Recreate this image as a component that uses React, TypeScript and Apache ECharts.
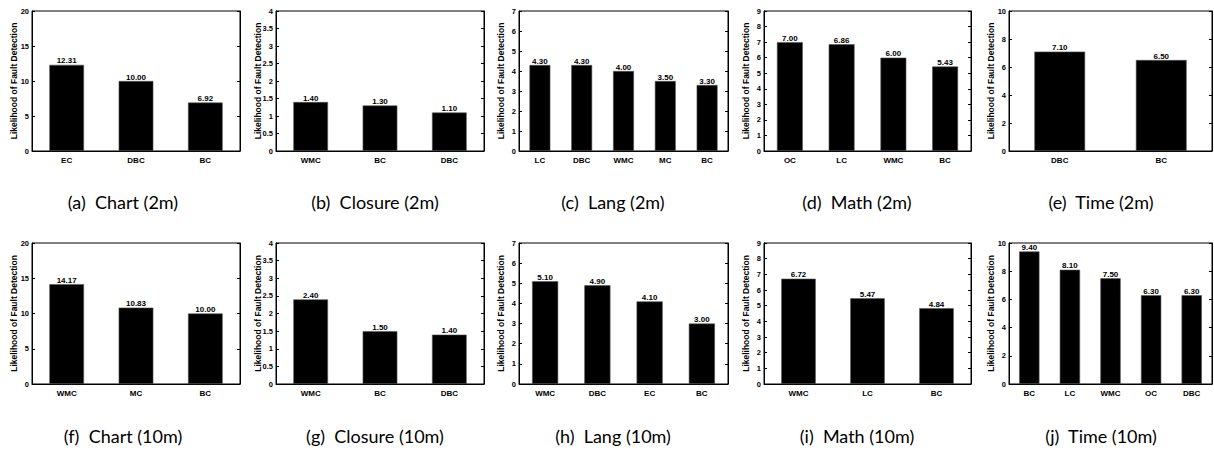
import React, { useEffect, useRef } from "react";
import * as echarts from "echarts";

// ---- Data ----
const chart2mCategories = ["EC", "DBC", "BC"];
const chart2mValues = [12.31, 10.0, 6.92];
const closure2mCategories = ["WMC", "BC", "DBC"];
const closure2mValues = [1.4, 1.3, 1.1];
const lang2mCategories = ["LC", "DBC", "WMC", "MC", "BC"];
const lang2mValues = [4.3, 4.3, 4.0, 3.5, 3.3];
const math2mCategories = ["OC", "LC", "WMC", "BC"];
const math2mValues = [7.0, 6.86, 6.0, 5.43];
const time2mCategories = ["DBC", "BC"];
const time2mValues = [7.1, 6.5];

const chart10mCategories = ["WMC", "MC", "BC"];
const chart10mValues = [14.17, 10.83, 10.0];
const closure10mCategories = ["WMC", "BC", "DBC"];
const closure10mValues = [2.4, 1.5, 1.4];
const lang10mCategories = ["WMC", "DBC", "EC", "BC"];
const lang10mValues = [5.1, 4.9, 4.1, 3.0];
const math10mCategories = ["WMC", "LC", "BC"];
const math10mValues = [6.72, 5.47, 4.84];
const time10mCategories = ["BC", "LC", "WMC", "OC", "DBC"];
const time10mValues = [9.4, 8.1, 7.5, 6.3, 6.3];

const yMaxes = [20, 4, 7, 9, 10, 20, 4, 7, 9, 10];
const yIntervals = [5, 0.5, 1, 1, 2, 5, 0.5, 1, 1, 2];
const captions = [
  "(a)\u00a0 Chart (2m)",
  "(b)\u00a0 Closure (2m)",
  "(c)\u00a0 Lang (2m)",
  "(d)\u00a0 Math (2m)",
  "(e)\u00a0 Time (2m)",
  "(f)\u00a0 Chart (10m)",
  "(g)\u00a0 Closure (10m)",
  "(h)\u00a0 Lang (10m)",
  "(i)\u00a0 Math (10m)",
  "(j)\u00a0 Time (10m)",
];
const yAxisName = "Likelihood of Fault Detection";

const panels = [
  [chart2mCategories, chart2mValues],
  [closure2mCategories, closure2mValues],
  [lang2mCategories, lang2mValues],
  [math2mCategories, math2mValues],
  [time2mCategories, time2mValues],
  [chart10mCategories, chart10mValues],
  [closure10mCategories, closure10mValues],
  [lang10mCategories, lang10mValues],
  [math10mCategories, math10mValues],
  [time10mCategories, time10mValues],
] as [string[], number[]][];

// ---- Layout ----
const colLefts = [32, 276, 519, 764, 1009];
const colRights = [240, 484, 728, 971, 1212];
const rowTops = [11, 243];
const rowBottoms = [151, 384];
const captionX = [123, 375, 613, 857, 1101];
const captionY = [202, 436];
const nameX = [14, 258, 501, 746, 991];

const smallFont = "Liberation Sans";

function buildOption() {
  const grid: any[] = [];
  const xAxis: any[] = [];
  const yAxis: any[] = [];
  const series: any[] = [];
  const graphic: any[] = [];

  panels.forEach(([cats, vals], i) => {
    const col = i % 5;
    const row = Math.floor(i / 5);
    const L = colLefts[col];
    const R = colRights[col];
    const T = rowTops[row];
    const B = rowBottoms[row];
    grid.push({
      left: L,
      top: T,
      width: R - L,
      height: B - T,
      show: true,
      borderColor: "#000",
      borderWidth: 1,
      backgroundColor: "transparent",
    });
    xAxis.push({
      type: "category",
      gridIndex: i,
      data: cats,
      boundaryGap: true,
      axisLine: { show: true, lineStyle: { color: "#000", width: 1 } },
      axisTick: { show: false },
      axisLabel: {
        color: "#000",
        fontSize: 8,
        fontWeight: "bold",
        fontFamily: smallFont,
        margin: 5,
      },
      splitLine: { show: false },
    });
    const yCommon = {
      type: "value",
      gridIndex: i,
      min: 0,
      max: yMaxes[i],
      interval: yIntervals[i],
      splitLine: { show: false },
      axisLine: { show: true, lineStyle: { color: "#000", width: 1 } },
      axisTick: { show: true, inside: true, length: 3, lineStyle: { color: "#000" } },
    };
    yAxis.push({
      ...yCommon,
      position: "left",
      axisLabel: {
        color: "#000",
        fontSize: 7.5,
        fontWeight: "bold",
        fontFamily: smallFont,
        margin: 3,
      },
    });
    yAxis.push({
      ...yCommon,
      position: "right",
      axisLabel: { show: false },
    });
    series.push({
      type: "bar",
      xAxisIndex: i,
      yAxisIndex: i * 2,
      data: vals,
      barWidth: "50%",
      itemStyle: { color: "#000", borderColor: "#555", borderWidth: 0.6 },
      label: {
        show: true,
        position: "top",
        distance: 0,
        color: "#000",
        fontSize: 8,
        fontWeight: "bold",
        fontFamily: smallFont,
        formatter: (p: any) => Number(p.value).toFixed(2),
      },
    });
    graphic.push({
      type: "text",
      x: nameX[col],
      y: (T + B) / 2,
      rotation: Math.PI / 2,
      style: {
        text: yAxisName,
        fill: "#000",
        font: `bold 8.5px ${smallFont}`,
        textAlign: "center",
        textVerticalAlign: "middle",
      },
    });
    graphic.push({
      type: "text",
      x: captionX[col],
      y: captionY[row],
      style: {
        text: captions[i],
        fill: "#000",
        font: "18px Lato",
        textAlign: "center",
        textVerticalAlign: "middle",
      },
    });
  });

  return {
    animation: false,
    backgroundColor: "#fff",
    grid,
    xAxis,
    yAxis,
    series,
    graphic,
  };
}

export default function App() {
  const ref = useRef<HTMLDivElement>(null);
  useEffect(() => {
    if (!ref.current) return;
    const chart = echarts.init(ref.current, undefined, { renderer: "svg" });
    chart.setOption(buildOption() as any);
    return () => chart.dispose();
  }, []);
  return (
    <div
      ref={ref}
      style={{ position: "fixed", left: 0, top: 0, width: 1214, height: 452 }}
    />
  );
}
